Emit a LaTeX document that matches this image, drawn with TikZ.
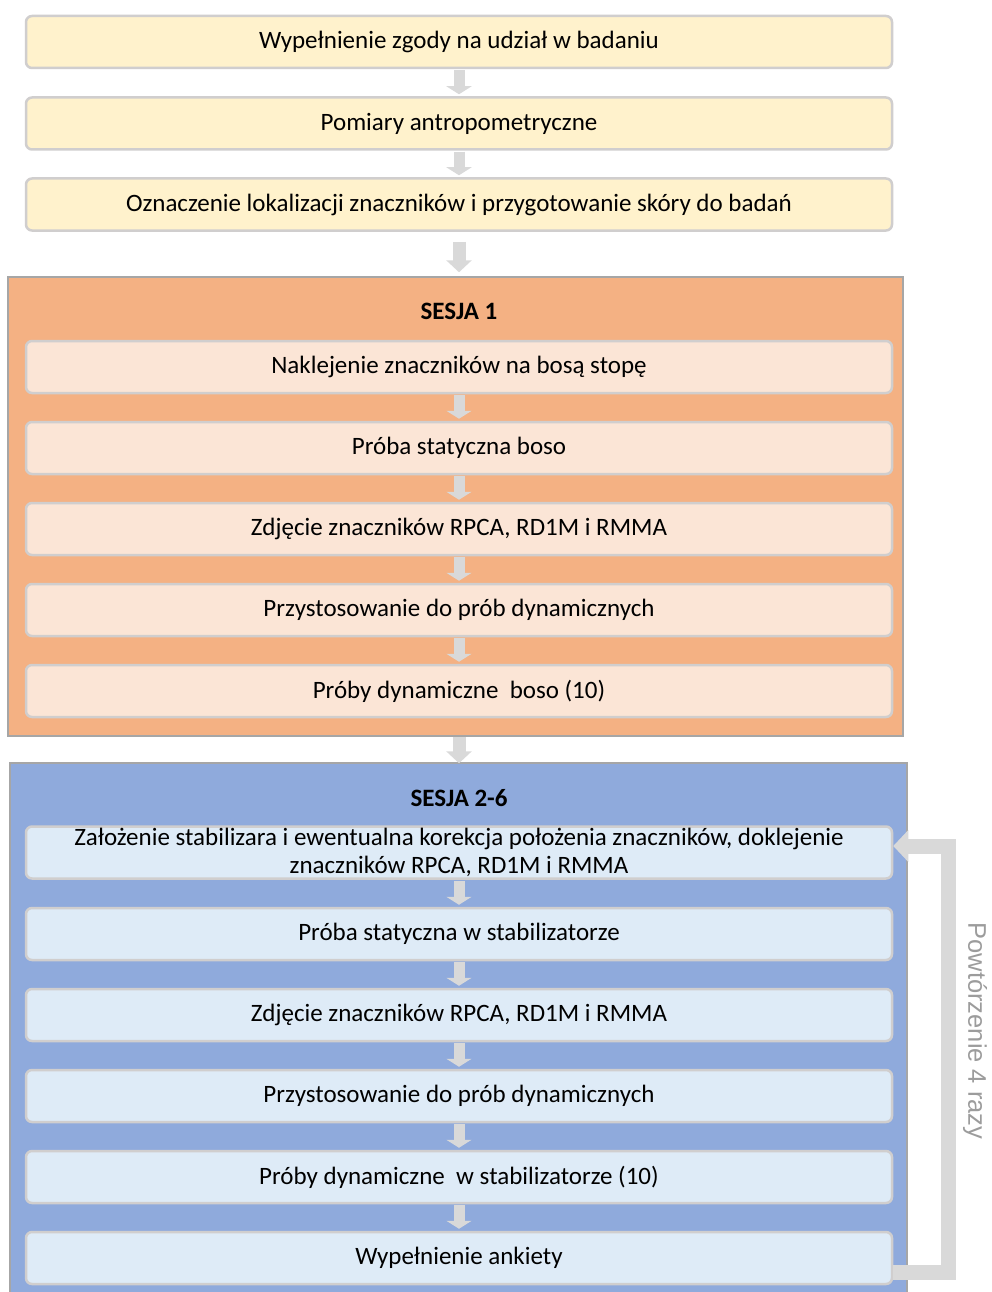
\documentclass[tikz,border=0pt]{standalone}
\usepackage{fontspec}
\setmainfont{Carlito}
\newfontfamily\loopfont{Liberation Sans}
\usetikzlibrary{arrows.meta}
\definecolor{boxY}{HTML}{FFF2CC}
\definecolor{contO}{HTML}{F4B183}
\definecolor{boxO}{HTML}{FBE5D6}
\definecolor{contB}{HTML}{8FAADC}
\definecolor{boxB}{HTML}{DEEBF7}
\definecolor{arrG}{HTML}{D9D9D9}
\definecolor{edgeG}{HTML}{D0CECE}
\definecolor{contEdge}{HTML}{A6A6A6}
\definecolor{loopTxt}{HTML}{9C9C9C}
\tikzset{
  stepbox/.style={draw=edgeG, line width=2.5pt, rounded corners=6pt,
    minimum width=866pt, minimum height=52pt, inner sep=0pt, align=center,
    font=\fontsize{25}{28}\selectfont, text=black},
  ybox/.style={stepbox, fill=boxY},
  obox/.style={stepbox, fill=boxO},
  bbox/.style={stepbox, fill=boxB},
  container/.style={draw=contEdge, line width=1.5pt, inner sep=0pt},
  title/.style={font=\fontsize{25}{28}\selectfont\bfseries, text=black},
  smallarrow/.style={draw=arrG, line width=11pt, -{Triangle[width=25pt,length=8pt]}},
  bigarrow/.style={draw=arrG, line width=13pt, -{Triangle[width=25pt,length=12pt]}},
  looparrow/.style={draw=arrG, line width=15pt, line join=miter, -{Triangle[width=31pt,length=15pt]}}
}
\begin{document}
\begin{tikzpicture}[x=1pt,y=-1pt]
\useasboundingbox (0,0) rectangle (992,1292);
\fill[white] (0,0) rectangle (992,1292);
\begin{scope}
\clip (0,0) rectangle (992,1292);
% top boxes
\node[ybox] (a1) at (459,42) {Wypełnienie zgody na udział w badaniu};
\node[ybox] (a2) at (459,123.5) {Pomiary antropometryczne};
\node[ybox] (a3) at (459,204.5) {Oznaczenie lokalizacji znaczników i przygotowanie skóry do badań};
\draw[smallarrow] ([yshift=-1pt]a1.south) -- ([yshift=2pt]a2.north);
\draw[smallarrow] ([yshift=-1pt]a2.south) -- ([yshift=2pt]a3.north);
% session 1
\node[container, fill=contO, minimum width=895pt, minimum height=459pt] (s1) at (455.5,506.5) {};
\draw[bigarrow] ([yshift=-10pt]a3.south) -- ([yshift=4pt]s1.north -| a3.south);
\node[title] (t1) at (459,311) {SESJA 1};
\node[obox] (o1) at (459,367) {Naklejenie znaczników na bosą stopę};
\node[obox] (o2) at (459,448) {Próba statyczna boso};
\node[obox] (o3) at (459,529) {Zdjęcie znaczników RPCA, RD1M i RMMA};
\node[obox] (o4) at (459,610) {Przystosowanie do prób dynamicznych};
\node[obox] (o5) at (459,691) {Próby dynamiczne\ \ boso (10)};
\draw[smallarrow] ([yshift=-1pt]o1.south) -- ([yshift=2pt]o2.north);
\draw[smallarrow] ([yshift=-1pt]o2.south) -- ([yshift=2pt]o3.north);
\draw[smallarrow] ([yshift=-1pt]o3.south) -- ([yshift=2pt]o4.north);
\draw[smallarrow] ([yshift=-1pt]o4.south) -- ([yshift=2pt]o5.north);
% session 2-6
\node[container, fill=contB, minimum width=897pt, minimum height=560pt] (s2) at (458.5,1043) {};
\draw[bigarrow] (s1.south -| o5.south) -- ([yshift=-1pt]s2.north -| o5.south);
\node[title] (t2) at (459,798) {SESJA 2-6};
\node[bbox] (c1) at (459,852.5) {Założenie stabilizara i ewentualna korekcja położenia znaczników, doklejenie\\znaczników RPCA, RD1M i RMMA};
\node[bbox] (c2) at (459,934) {Próba statyczna w stabilizatorze};
\node[bbox] (c3) at (459,1015) {Zdjęcie znaczników RPCA, RD1M i RMMA};
\node[bbox] (c4) at (459,1096) {Przystosowanie do prób dynamicznych};
\node[bbox] (c5) at (459,1177) {Próby dynamiczne\ \ w stabilizatorze (10)};
\node[bbox] (c6) at (459,1258) {Wypełnienie ankiety};
\draw[smallarrow] ([yshift=-1pt]c1.south) -- ([yshift=2pt]c2.north);
\draw[smallarrow] ([yshift=-1pt]c2.south) -- ([yshift=2pt]c3.north);
\draw[smallarrow] ([yshift=-1pt]c3.south) -- ([yshift=2pt]c4.north);
\draw[smallarrow] ([yshift=-1pt]c4.south) -- ([yshift=2pt]c5.north);
\draw[smallarrow] ([yshift=-1pt]c5.south) -- ([yshift=2pt]c6.north);
% loop
\coordinate (lp) at (948,1272);
\draw[looparrow] (c6.east |- lp) -- (lp) |- ([yshift=6.5pt]c1.east);
\node[rotate=-90, text=loopTxt, font=\loopfont\fontsize{25.5}{30}\selectfont] (rep) at (975,1031) {Powtórzenie 4 razy};
\end{scope}
\end{tikzpicture}
\end{document}
